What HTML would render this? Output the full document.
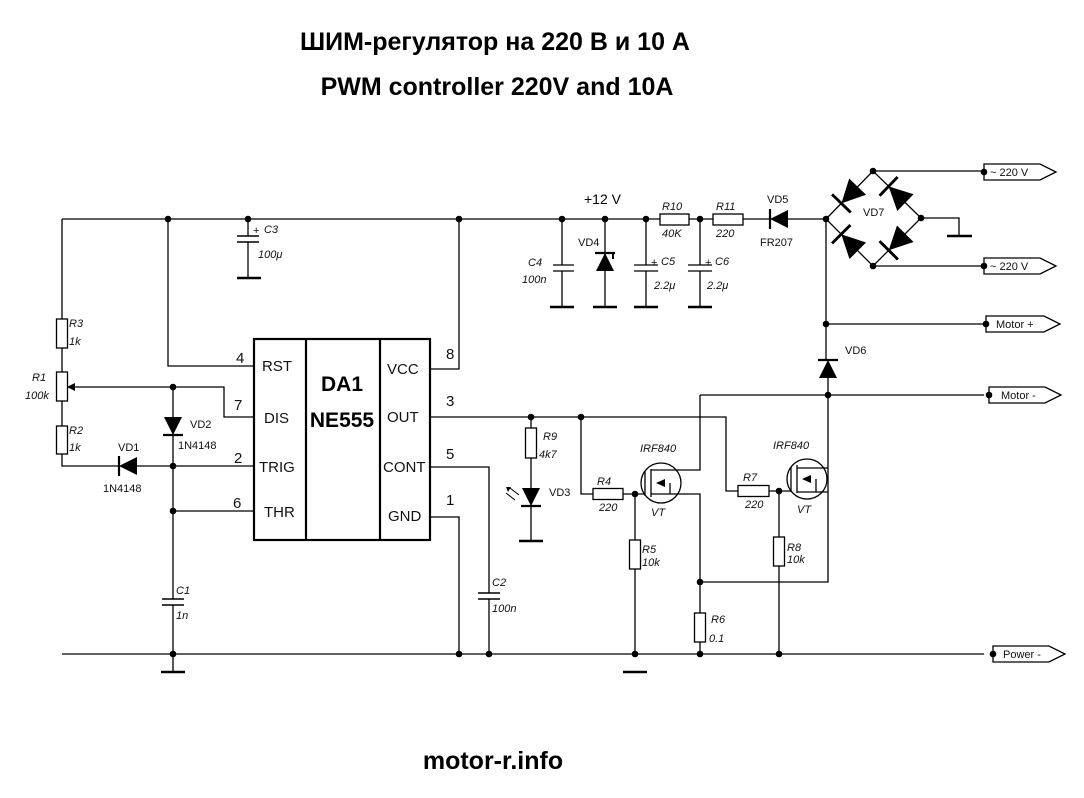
<!DOCTYPE html>
<html><head><meta charset="utf-8"><style>
html,body{margin:0;padding:0;background:#fff;}
svg{display:block;font-family:"Liberation Sans","Noto Sans CJK SC",sans-serif;}
.w{stroke:#000;stroke-width:1.3;fill:none;}
.t{font-size:15px;fill:#111;}
.i{font-size:11px;font-style:italic;fill:#111;}
.s{font-size:11px;fill:#111;}
</style></head><body>
<svg width="1084" height="798" viewBox="0 0 1084 798" xmlns="http://www.w3.org/2000/svg">
<defs>
<g id="d"><polygon points="-9,-9 -9,9 9,0" fill="#000"/><line x1="9" y1="-10" x2="9" y2="10" stroke="#000" stroke-width="2.2"/></g>
</defs>
<text x="495" y="50" text-anchor="middle" font-size="25" font-weight="bold">ШИМ-регулятор на 220 В и 10 А</text>
<text x="497" y="95" text-anchor="middle" font-size="25" font-weight="bold">PWM controller 220V and 10A</text>
<text x="493" y="769" text-anchor="middle" font-size="25" font-weight="bold">motor-r.info</text>

<g class="w">
<path d="M62,219 H826"/>
<path d="M62,219 V319 M62,348 V372 M62,401 V426 M62,454 V466 H118 M137,466 H254"/>
<path d="M70,387 H224 V417 H254"/>
<path d="M173,387 V417 M173,435 V599 M173,605 V672"/>
<path d="M173,511 H254"/>
<path d="M168,219 V366 H254"/>
<path d="M248,219 V236 M248,242 V278"/>
<path d="M430,369 H459 V219"/>
<path d="M430,417 H726 V491 H738"/>
<path d="M430,467 H489 V593 M489,599 V654"/>
<path d="M430,517 H459 V654"/>
<path d="M62,654 H984"/>
<rect x="254" y="339" width="176" height="201" stroke-width="2.2"/>
<path d="M306,339 V540 M380,339 V540" stroke-width="2.2"/>
<path d="M237,236 H259 M237,242 H259" stroke-width="1.6"/>
<path d="M162,599 H184 M162,605 H184" stroke-width="1.6"/>
<path d="M478,593 H500 M478,599 H500" stroke-width="1.6"/>
<path d="M237,278 H261 M161,672 H185 M623,672 H647 M519,541 H543 M947,236 H972" stroke-width="2.5"/>
<rect x="56.5" y="319" width="11" height="29" fill="#fff"/>
<rect x="56.5" y="372" width="11" height="29" fill="#fff"/>
<rect x="56.5" y="426" width="11" height="28" fill="#fff"/>
<path d="M562,219 V265 M562,271 V307 M553,265 H574 M553,271 H574" />
<path d="M605,219 V307"/>
<path d="M597,253 H613 V259" stroke-width="2"/>
<path d="M646,219 V265 M646,271 V307 M634,265 H658 M634,271 H658"/>
<path d="M700,219 V265 M700,271 V307 M688,265 H712 M688,271 H712"/>
<path d="M550,307 H574 M593,307 H617 M634,307 H658 M688,307 H712" stroke-width="2.5"/>
<rect x="660" y="214" width="29" height="11" fill="#fff"/>
<rect x="713" y="214" width="30" height="11" fill="#fff"/>
<path d="M826,219 L873,171 L921,218 L873,266 Z"/>
<path d="M873,171 H984 M873,266 H984 M921,218 H959 V236"/>
<path d="M826,219 V359 M828,378 V582 H700 M826,324 H984"/>
<path d="M700,395 H984"/>
<path d="M531,417 V428 M531,458 V541"/>
<rect x="525.5" y="428" width="11" height="30" fill="#fff"/>
<path d="M581,417 V494 H593 M623,494 H645 M635,494 V540 M635,569 V654"/>
<rect x="593" y="488.5" width="30" height="11" fill="#fff"/>
<rect x="629.5" y="540" width="11" height="29" fill="#fff"/>
<circle cx="661" cy="483" r="20"/>
<path d="M645,471 V496 M651,469 V497"/>
<path d="M651,470 H681 M681,470 H700 V395 M651,494 H700 V613 M700,642 V654 M670,483 V494"/>
<rect x="694.5" y="613" width="11" height="29" fill="#fff"/>
<rect x="738" y="485.5" width="31" height="11" fill="#fff"/>
<path d="M769,491 H791 M779,491 V537 M779,566 V654"/>
<rect x="773.5" y="537" width="11" height="29" fill="#fff"/>
<circle cx="807" cy="479" r="20"/>
<path d="M791,467 V492 M797,465 V493"/>
<path d="M797,468 H828 M797,492 H828 M816,479 V492"/>
<path d="M984,164 H1040 L1056,172 L1040,180 H984 Z"/>
<path d="M984,258 H1040 L1056,266 L1040,274 H984 Z"/>
<path d="M986,316 H1044 L1060,324 L1044,332 H986 Z"/>
<path d="M989,387 H1045 L1061,395 L1045,403 H989 Z"/>
<path d="M993,646 H1049 L1065,654 L1049,662 H993 Z"/>
</g>
<polygon points="67,387 75,383 75,391" fill="#000"/>
<polygon points="656,483 665,479 665,487" fill="#000"/>
<polygon points="802,479 811,475 811,483" fill="#000"/>
<path d="M519,495 L510,488 M515,500 L506,493" stroke="#000" stroke-width="1"/>
<polygon points="506,487 511,487 508,492" fill="#000"/>
<use href="#d" transform="translate(128,466) rotate(180)"/>
<use href="#d" transform="translate(173,426) rotate(90)"/>
<use href="#d" transform="translate(531,497) rotate(90)"/>
<use href="#d" transform="translate(605,262) rotate(-90)"/>
<use href="#d" transform="translate(779,219) rotate(180)"/>
<use href="#d" transform="translate(828,369) rotate(-90)"/>
<use href="#d" transform="translate(849.5,195) rotate(134) scale(1.3)"/>
<use href="#d" transform="translate(897,194.5) rotate(-136) scale(1.3)"/>
<use href="#d" transform="translate(897,242) rotate(135) scale(1.3)"/>
<use href="#d" transform="translate(849.5,242.5) rotate(-135) scale(1.3)"/>
<g fill="#000">
<circle cx="168" cy="219" r="3.3"/><circle cx="248" cy="219" r="3.3"/><circle cx="459" cy="219" r="3.3"/>
<circle cx="562" cy="219" r="3.3"/><circle cx="605" cy="219" r="3.3"/><circle cx="646" cy="219" r="3.3"/><circle cx="700" cy="219" r="3.3"/>
<circle cx="826" cy="219" r="3.3"/><circle cx="873" cy="171" r="3.3"/><circle cx="921" cy="218" r="3.3"/><circle cx="873" cy="266" r="3.3"/>
<circle cx="984" cy="172" r="3.3"/><circle cx="984" cy="266" r="3.3"/><circle cx="986" cy="324" r="3.3"/><circle cx="826" cy="324" r="3.3"/>
<circle cx="828" cy="395" r="3.3"/><circle cx="989" cy="395" r="3.3"/><circle cx="993" cy="654" r="3.3"/>
<circle cx="173" cy="387" r="3.3"/><circle cx="173" cy="466" r="3.3"/><circle cx="173" cy="511" r="3.3"/><circle cx="173" cy="654" r="3.3"/>
<circle cx="459" cy="654" r="3.3"/><circle cx="489" cy="654" r="3.3"/><circle cx="635" cy="654" r="3.3"/><circle cx="700" cy="654" r="3.3"/><circle cx="779" cy="654" r="3.3"/>
<circle cx="531" cy="417" r="3.3"/><circle cx="581" cy="417" r="3.3"/><circle cx="635" cy="494" r="3.3"/><circle cx="779" cy="491" r="3.3"/><circle cx="700" cy="582" r="3.3"/>
</g>
<text x="342" y="391" text-anchor="middle" font-size="21" font-weight="bold">DA1</text>
<text x="342" y="427" text-anchor="middle" font-size="21" font-weight="bold">NE555</text>
<text class="t" x="262" y="371">RST</text>
<text class="t" x="264" y="423">DIS</text>
<text class="t" x="259" y="472">TRIG</text>
<text class="t" x="264" y="517">THR</text>
<text class="t" x="387" y="374">VCC</text>
<text class="t" x="387" y="422">OUT</text>
<text class="t" x="383" y="472">CONT</text>
<text class="t" x="388" y="521">GND</text>
<text class="t" x="236" y="363">4</text><text class="t" x="234" y="410">7</text><text class="t" x="234" y="463">2</text><text class="t" x="233" y="508">6</text>
<text class="t" x="446" y="359">8</text><text class="t" x="446" y="406">3</text><text class="t" x="446" y="459">5</text><text class="t" x="446" y="505">1</text>
<text class="i" x="69" y="327">R3</text><text class="i" x="69" y="345">1k</text>
<text class="i" x="32" y="381">R1</text><text class="i" x="25" y="399">100k</text>
<text class="i" x="69" y="434">R2</text><text class="i" x="69" y="451">1k</text>
<text class="s" x="118" y="451">VD1</text><text class="s" x="103" y="492">1N4148</text>
<text class="s" x="190" y="428">VD2</text><text class="s" x="178" y="449">1N4148</text>
<text class="i" x="176" y="594">C1</text><text class="i" x="176" y="619">1n</text>
<text class="s" x="253" y="234">+</text><text class="i" x="264" y="233">C3</text><text class="i" x="258" y="258">100μ</text>
<text class="i" x="492" y="586">C2</text><text class="i" x="492" y="612">100n</text>
<text class="i" x="543" y="440">R9</text><text class="i" x="539" y="458">4k7</text>
<text class="s" x="549" y="496">VD3</text>
<text class="i" x="597" y="485">R4</text><text class="i" x="599" y="511">220</text>
<text class="i" x="642" y="553">R5</text><text class="i" x="642" y="566">10k</text>
<text class="i" x="640" y="452">IRF840</text><text class="i" x="651" y="516">VT</text>
<text class="i" x="711" y="623">R6</text><text class="i" x="709" y="642">0.1</text>
<text class="i" x="743" y="481">R7</text><text class="i" x="745" y="508">220</text>
<text class="i" x="787" y="551">R8</text><text class="i" x="787" y="563">10k</text>
<text class="i" x="773" y="449">IRF840</text><text class="i" x="797" y="513">VT</text>
<text class="s" x="845" y="354">VD6</text>
<text x="584" y="204" font-size="14">+12 V</text>
<text class="s" x="578" y="246">VD4</text>
<text class="i" x="528" y="266">C4</text><text class="i" x="522" y="283">100n</text>
<text class="s" x="651" y="266">+</text><text class="i" x="661" y="265">C5</text><text class="i" x="654" y="289">2.2μ</text>
<text class="s" x="705" y="266">+</text><text class="i" x="715" y="265">C6</text><text class="i" x="707" y="289">2.2μ</text>
<text class="i" x="662" y="210">R10</text><text class="i" x="662" y="237">40K</text>
<text class="i" x="716" y="210">R11</text><text class="i" x="716" y="237">220</text>
<text class="s" x="767" y="203">VD5</text><text class="s" x="760" y="246">FR207</text>
<text class="s" x="863" y="216">VD7</text>
<text class="s" x="990" y="176">~ 220 V</text>
<text class="s" x="990" y="270">~ 220 V</text>
<text class="s" x="996" y="328">Motor +</text>
<text class="s" x="1001" y="399">Motor -</text>
<text class="s" x="1003" y="658">Power -</text>
</svg>
</body></html>
